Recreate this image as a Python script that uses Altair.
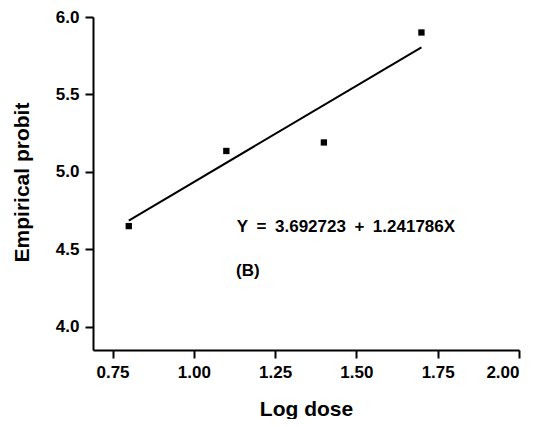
import altair as alt
import pandas as pd

# Observed points (log dose, empirical probit)
log_dose = [0.80, 1.10, 1.40, 1.70]
probit = [4.65, 5.135, 5.19, 5.90]

# Fitted line end points
fit_x = [0.80, 1.70]
fit_y = [4.686, 5.804]

x_ticks = [0.75, 1.00, 1.25, 1.50, 1.75, 2.00]
y_ticks = [4.0, 4.5, 5.0, 5.5, 6.0]

eq_label = ["Y\u2002=\u20023.692723\u2002+\u20021.241786X"]
eq_x = [1.132]
eq_y = [4.647]
tag_label = ["(B)"]
tag_x = [1.13]
tag_y = [4.36]

FONT = "Liberation Sans"

pts = pd.DataFrame({"x": log_dose, "y": probit})
fit = pd.DataFrame({"x": fit_x, "y": fit_y})
eq = pd.DataFrame({"x": eq_x, "y": eq_y, "t": eq_label})
tag = pd.DataFrame({"x": tag_x, "y": tag_y, "t": tag_label})

xs = alt.Scale(domain=[0.69, 2.0], nice=False, zero=False)
ys = alt.Scale(domain=[3.85, 6.0], nice=False, zero=False)

xaxis = alt.Axis(
    title="Log dose", values=x_ticks, format=".2f", grid=False,
    domainColor="black", domainWidth=2, tickColor="black", tickWidth=2, tickSize=8,
    labelFont=FONT, labelFontSize=17, labelFontWeight="bold", labelColor="black",
    labelPadding=6, titleFont=FONT, titleFontSize=21, titleFontWeight="bold",
    titleColor="black", titleBaseline="alphabetic", titleY=65,
)
yaxis = alt.Axis(
    title="Empirical probit", values=y_ticks, format=".1f", grid=False,
    domainColor="black", domainWidth=2, tickColor="black", tickWidth=2, tickSize=8,
    labelFont=FONT, labelFontSize=17, labelFontWeight="bold", labelColor="black",
    labelPadding=6, titleFont=FONT, titleFontSize=21, titleFontWeight="bold",
    titleColor="black", titleBaseline="alphabetic", titleAngle=270, titleX=-65, titleY=165,
)

base_x = alt.X("x:Q", scale=xs, axis=xaxis)
base_y = alt.Y("y:Q", scale=ys, axis=yaxis)

line = alt.Chart(fit).mark_line(color="black", strokeWidth=2).encode(x=base_x, y=base_y)
points = alt.Chart(pts).mark_square(color="black", size=40, opacity=1).encode(x="x:Q", y="y:Q")
eq_text = alt.Chart(eq).mark_text(
    align="left", baseline="middle", font=FONT, fontSize=17, fontWeight="bold", color="black"
).encode(x="x:Q", y="y:Q", text="t:N")
tag_text = alt.Chart(tag).mark_text(
    align="left", baseline="middle", font=FONT, fontSize=17, fontWeight="bold", color="black"
).encode(x="x:Q", y="y:Q", text="t:N")

chart = alt.layer(line, points, eq_text, tag_text).properties(
    width=426, height=333,
    autosize=alt.AutoSizeParams(type="none"),
    padding={"left": 85, "top": 9, "right": 18, "bottom": 69},
    background="white",
).configure_view(stroke=None)

chart.save("out.html", embed_options={"renderer": "svg", "actions": False})
